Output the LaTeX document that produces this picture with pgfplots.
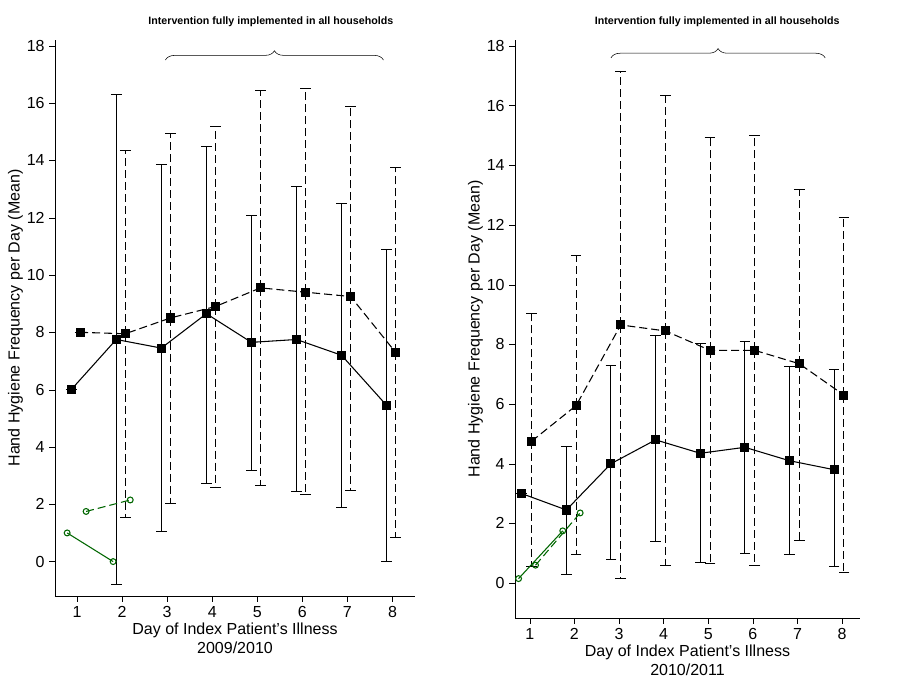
\documentclass[border=0pt]{standalone}
\usepackage{pgfplots}
\pgfplotsset{compat=1.18}
\usepackage{fontspec}
\setmainfont{Liberation Sans}
\usetikzlibrary{decorations.pathreplacing}
\begin{document}
\begin{tikzpicture}
\path (0,0) rectangle (672.75pt,508.5pt);
\tikzset{dsh/.style={dash pattern=on 6pt off 3pt}}
\pgfplotsset{
  common/.style={
    scale only axis, anchor=south west, axis lines=left,
    axis line style={-, black}, clip=false,
    tick align=outside, tick style={black},
    xtick={1,...,8}, ytick={0,2,...,18},
    ticklabel style={font=\large},
    label style={font=\large},
    /pgf/number format/assume math mode=true,
    ylabel={Hand Hygiene Frequency per Day (Mean)},
    xlabel style={align=center, yshift=3pt},
    ylabel style={yshift=-4pt},
    every axis plot/.append style={black, thick},
    error bars/y dir=both, error bars/y explicit,
    error bars/error mark options={rotate=90, mark size=4pt, black},
  },
  sq/.style={mark=square*, mark size=3pt, mark options={solid}},
  ci/.style={green!40!black, thick, mark=o, mark size=2.2pt, mark options={solid}},
}
% Left panel
\begin{axis}[common, at={(41.25pt,61.5pt)}, width=270pt, height=417pt,
  xmin=0.51, xmax=8.5, ymin=-1.2, ymax=18.2,
  xlabel={Day of Index Patient's Illness\\2009/2010}]
\addplot[sq, solid, error bars/error bar style={black,thick,solid}] table[y error plus=ep, y error minus=em] {
x y ep em
0.87 6.0 0 0
1.87 7.75 8.55 8.55
2.87 7.45 6.4 6.4
3.87 8.65 5.85 5.9
4.87 7.65 4.45 4.45
5.87 7.75 5.35 5.3
6.87 7.2 5.3 5.3
7.87 5.45 5.45 5.45
};
\addplot[sq, dsh, error bars/error bar style={black,thick,dsh}] table[y error plus=ep, y error minus=em] {
x y ep em
1.07 8.0 0 0
2.07 7.95 6.4 6.4
3.07 8.5 6.45 6.45
4.07 8.9 6.3 6.3
5.07 9.55 6.9 6.9
6.07 9.4 7.1 7.05
7.07 9.25 6.65 6.75
8.07 7.3 6.45 6.45
};
\addplot[ci, solid] coordinates {(0.78,1.0) (1.8,0.0)};
\addplot[ci, dsh] coordinates {(1.2,1.75) (2.18,2.15)};
\draw[thin, decorate, decoration={brace, amplitude=7pt}] (axis cs:2.96,17.5) -- (axis cs:7.8,17.5);
\node[font=\bfseries\footnotesize] at (axis cs:5.3,18.85) {Intervention fully implemented in all households};
\end{axis}
% Right panel
\begin{axis}[common, at={(386.25pt,45pt)}, width=258.75pt, height=433.5pt,
  xmin=0.67, xmax=8.4, ymin=-1.17, ymax=18.2,
  xlabel={Day of Index Patient's Illness\\2010/2011}]
\addplot[sq, solid, error bars/error bar style={black,thick,solid}] table[y error plus=ep, y error minus=em] {
x y ep em
0.82 3.0 0 0
1.82 2.45 2.15 2.15
2.82 4.0 3.3 3.2
3.82 4.8 3.5 3.4
4.82 4.35 3.7 3.65
5.82 4.55 3.55 3.55
6.82 4.1 3.15 3.15
7.82 3.8 3.35 3.25
};
\addplot[sq, dsh, error bars/error bar style={black,thick,dsh}] table[y error plus=ep, y error minus=em] {
x y ep em
1.04 4.75 4.3 4.2
2.04 5.95 5.05 5.0
3.04 8.65 8.5 8.5
4.04 8.45 7.9 7.85
5.04 7.8 7.15 7.15
6.04 7.8 7.2 7.2
7.04 7.35 5.85 5.9
8.04 6.3 5.95 5.95
};
\addplot[ci, solid] coordinates {(0.75,0.15) (1.74,1.75)};
\addplot[ci, dsh] coordinates {(1.13,0.6) (2.13,2.35)};
\draw[thin, decorate, decoration={brace, amplitude=7pt}] (axis cs:2.82,17.6) -- (axis cs:7.62,17.6);
\node[font=\bfseries\footnotesize] at (axis cs:5.2,18.8) {Intervention fully implemented in all households};
\end{axis}
\end{tikzpicture}
\end{document}
